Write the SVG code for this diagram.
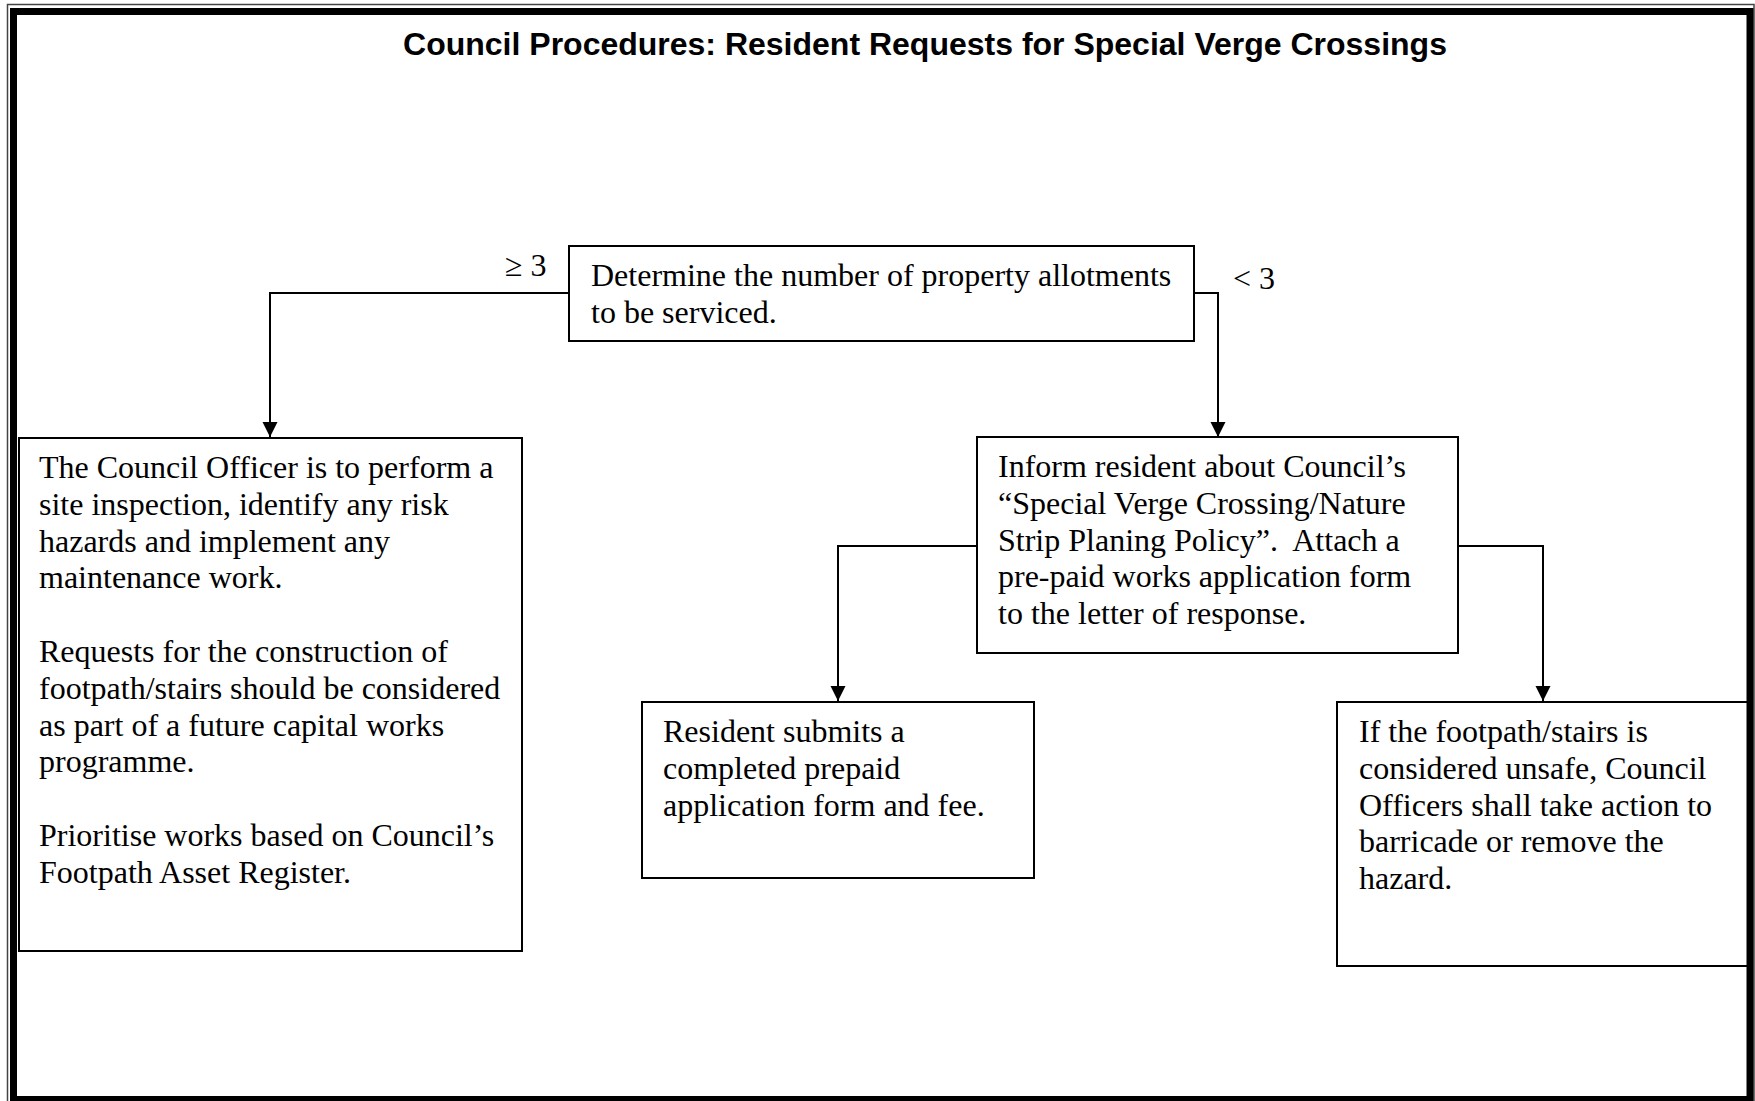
<svg xmlns="http://www.w3.org/2000/svg" width="1755" height="1101" viewBox="0 0 1755 1101">
<style>
.box{fill:#fff;stroke:#000;stroke-width:2}
.t{font-family:"Liberation Serif","Times New Roman",serif;font-size:32px;fill:#000}
.title{font-family:"Liberation Sans",Arial,sans-serif;font-size:32px;font-weight:bold;fill:#000}
.conn{fill:none;stroke:#000;stroke-width:2}
</style>
<defs>
<marker id="arr" markerUnits="userSpaceOnUse" markerWidth="16" markerHeight="16" viewBox="0 0 16 16" refX="15" refY="8" orient="auto">
<path d="M0,0.5 L15,8 L0,15.5 Z" fill="#000"/>
</marker>
</defs>
<rect x="0" y="0" width="1755" height="1101" fill="#fff"/>
<text class="title" x="925" y="55" text-anchor="middle">Council Procedures: Resident Requests for Special Verge Crossings</text>

<g id="connectors">
<path class="conn" d="M569,293 H270 V437" marker-end="url(#arr)"/>
<path class="conn" d="M1194,293 H1218 V437" marker-end="url(#arr)"/>
<path class="conn" d="M977,546 H838 V701" marker-end="url(#arr)"/>
<path class="conn" d="M1458,546 H1543 V701" marker-end="url(#arr)"/>
<text class="t" x="505" y="276">≥ 3</text>
<text class="t" x="1233" y="289">&lt; 3</text>
</g>

<g id="n-determine">
<rect class="box" x="569" y="246" width="625" height="95"/>
<text class="t" x="591" y="286">Determine the number of property allotments</text>
<text class="t" x="591" y="322.8">to be serviced.</text>
</g>

<g id="n-inspection">
<rect class="box" x="19" y="438" width="503" height="513"/>
<text class="t" x="39" y="478">The Council Officer is to perform a</text>
<text class="t" x="39" y="514.8">site inspection, identify any risk</text>
<text class="t" x="39" y="551.6">hazards and implement any</text>
<text class="t" x="39" y="588.4">maintenance work.</text>
<text class="t" x="39" y="662">Requests for the construction of</text>
<text class="t" x="39" y="698.8">footpath/stairs should be considered</text>
<text class="t" x="39" y="735.6">as part of a future capital works</text>
<text class="t" x="39" y="772.4">programme.</text>
<text class="t" x="39" y="846">Prioritise works based on Council’s</text>
<text class="t" x="39" y="882.8">Footpath Asset Register.</text>
</g>

<g id="n-inform">
<rect class="box" x="977" y="437" width="481" height="216"/>
<text class="t" x="998" y="477">Inform resident about Council’s</text>
<text class="t" x="998" y="513.8">“Special Verge Crossing/Nature</text>
<text class="t" x="998" y="550.6" xml:space="preserve">Strip Planing Policy”.  Attach a</text>
<text class="t" x="998" y="587.4">pre-paid works application form</text>
<text class="t" x="998" y="624.2">to the letter of response.</text>
</g>

<g id="n-submit">
<rect class="box" x="642" y="702" width="392" height="176"/>
<text class="t" x="663" y="742">Resident submits a</text>
<text class="t" x="663" y="778.8">completed prepaid</text>
<text class="t" x="663" y="815.6">application form and fee.</text>
</g>

<g id="n-unsafe">
<rect class="box" x="1337" y="702" width="413" height="264"/>
<text class="t" x="1359" y="742">If the footpath/stairs is</text>
<text class="t" x="1359" y="778.8">considered unsafe, Council</text>
<text class="t" x="1359" y="815.6">Officers shall take action to</text>
<text class="t" x="1359" y="852.4">barricade or remove the</text>
<text class="t" x="1359" y="889.2">hazard.</text>
</g>

<g id="frame">
<rect x="7.5" y="4.5" width="1746.5" height="1102" fill="none" stroke="#444" stroke-width="1.5"/>
<rect x="13.5" y="11.5" width="1736.5" height="1088" fill="none" stroke="#000" stroke-width="7"/>
</g>
</svg>
